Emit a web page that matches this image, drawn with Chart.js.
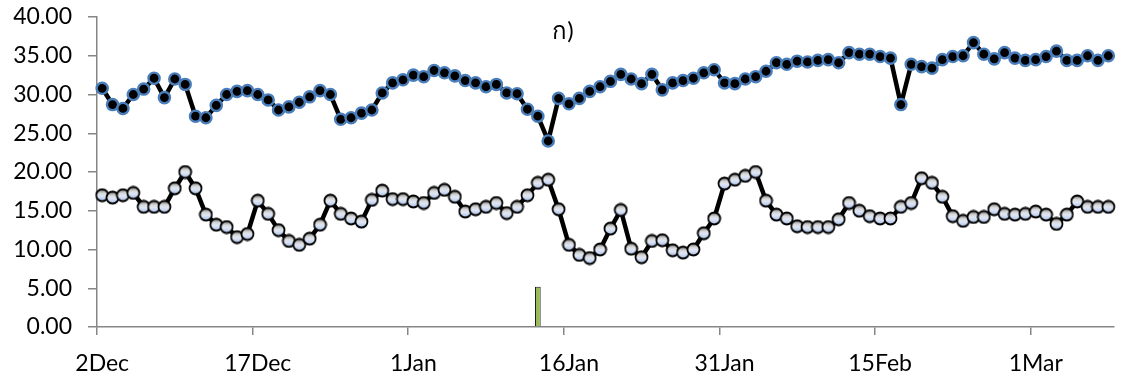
<!DOCTYPE html>
<html>
<head>
<meta charset="utf-8">
<script src="https://cdn.jsdelivr.net/npm/chart.js@4/dist/chart.umd.min.js"></script>
<style>
  html, body { margin: 0; padding: 0; background: #fff; }
  #wrap { width: 1124px; height: 381px; }
</style>
</head>
<body>
<div id="wrap"><canvas id="chart" width="1124" height="381"></canvas></div>
<script>
// daily series, 2 Dec 2011 .. 8 Mar 2012
const START = new Date(2011, 11, 2);
const DAYS = 98;
const MONTHS = ['Jan', 'Feb', 'Mar', 'Apr', 'May', 'Jun', 'Jul', 'Aug', 'Sep', 'Oct', 'Nov', 'Dec'];

const dayLabels = [];
for (let i = 0; i < DAYS; i++) {
  const d = new Date(START.getFullYear(), START.getMonth(), START.getDate() + i);
  dayLabels.push(d.getDate() + MONTHS[d.getMonth()]);
}

// labelled every 15 days
const tickLabels = ['2Dec', '17Dec', '1Jan', '16Jan', '31Jan', '15Feb', '1Mar'];

const maxTemp = [
  30.8, 28.7, 28.2, 30.0, 30.7, 32.1, 29.6, 32.0, 31.3, 27.2,
  27.0, 28.6, 30.0, 30.4, 30.5, 30.0, 29.3, 28.0, 28.4, 29.0,
  29.7, 30.5, 30.0, 26.8, 27.0, 27.6, 28.0, 30.2, 31.5, 31.9,
  32.5, 32.3, 33.1, 32.8, 32.4, 31.8, 31.5, 31.0, 31.3, 30.2,
  30.1, 28.1, 27.2, 24.0, 29.5, 28.8, 29.5, 30.4, 31.0, 31.7,
  32.6, 32.0, 31.4, 32.6, 30.6, 31.5, 31.8, 32.1, 32.8, 33.2,
  31.5, 31.4, 32.0, 32.3, 33.0, 34.1, 33.9, 34.3, 34.2, 34.4,
  34.5, 34.1, 35.4, 35.2, 35.2, 34.9, 34.7, 28.7, 33.9, 33.6,
  33.4, 34.5, 34.9, 35.0, 36.7, 35.2, 34.6, 35.4, 34.7, 34.4,
  34.5, 34.9, 35.6, 34.4, 34.4, 35.0, 34.4, 35.0
];

const minTemp = [
  17.0, 16.7, 17.0, 17.3, 15.5, 15.5, 15.5, 17.9, 20.0, 17.9,
  14.5, 13.2, 12.9, 11.6, 12.0, 16.3, 14.6, 12.5, 11.1, 10.6,
  11.4, 13.2, 16.3, 14.6, 14.0, 13.6, 16.4, 17.6, 16.5, 16.5,
  16.2, 16.0, 17.3, 17.7, 16.8, 14.9, 15.2, 15.5, 16.0, 14.7,
  15.5, 17.0, 18.6, 19.0, 15.2, 10.6, 9.3, 8.9, 10.0, 12.7,
  15.1, 10.1, 9.0, 11.1, 11.2, 9.9, 9.6, 10.0, 12.1, 14.0,
  18.5, 19.0, 19.5, 20.0, 16.3, 14.5, 14.0, 13.0, 12.9, 12.9,
  12.9, 13.9, 16.0, 15.0, 14.3, 14.0, 14.0, 15.5, 16.0, 19.2,
  18.6, 16.8, 14.3, 13.7, 14.2, 14.2, 15.2, 14.6, 14.5, 14.6,
  14.9, 14.5, 13.3, 14.5, 16.2, 15.5, 15.5, 15.5
];

const rainDates = ['13Jan'];
const rainValues = [5.2];

const AXIS_GREY = '#868686';

// shaded marker for the lower series
function makeShadedDot(r) {
  const size = Math.ceil(r * 2 + 3);
  const c = document.createElement('canvas');
  c.width = size;
  c.height = size;
  const g = c.getContext('2d');
  const mid = size / 2;
  const grad = g.createLinearGradient(0, mid - r, 0, mid + r);
  grad.addColorStop(0, '#5a5a5a');
  grad.addColorStop(0.3, '#d4d4d4');
  grad.addColorStop(0.55, '#e2e9f6');
  grad.addColorStop(1, '#a6bde8');
  g.beginPath();
  g.arc(mid, mid, r, 0, Math.PI * 2);
  g.fillStyle = grad;
  g.fill();
  g.lineWidth = 1.8;
  g.strokeStyle = '#000';
  g.stroke();
  return c;
}
const shadedDot = makeShadedDot(6);

// small caption drawn inside the plot
const captionPlugin = {
  id: 'caption',
  afterDraw(chart) {
    const {ctx} = chart;
    ctx.save();
    ctx.font = '24px Lato, "Noto Sans", sans-serif';
    ctx.fillStyle = '#000';
    ctx.textAlign = 'center';
    ctx.textBaseline = 'middle';
    ctx.fillText('ก)', chart.width / 2 + 1, 31);
    ctx.restore();
  }
};

Chart.defaults.font.family = 'Lato, "Noto Sans", sans-serif';
Chart.defaults.font.size = 23;
Chart.defaults.color = '#000';

new Chart(document.getElementById('chart'), {
  type: 'line',
  data: {
    labels: dayLabels,
    datasets: [
      {
        label: 'max',
        data: maxTemp,
        borderColor: '#000',
        borderWidth: 4.5,
        borderJoinStyle: 'round',
        pointRadius: 5.6,
        pointBorderWidth: 2.4,
        pointBackgroundColor: '#000',
        pointBorderColor: '#4a7ebb',
        tension: 0
      },
      {
        label: 'min',
        data: minTemp,
        borderColor: '#000',
        borderWidth: 4.5,
        borderJoinStyle: 'round',
        pointStyle: shadedDot,
        pointRadius: 6,
        tension: 0
      },
      {
        type: 'bar',
        label: 'rain',
        data: rainDates.map((d, k) => ({x: d, y: rainValues[k]})),
        backgroundColor: '#9bbb59',
        borderColor: '#1a1a1a',
        borderWidth: 1,
        categoryPercentage: 1,
        barPercentage: 0.55
      }
    ]
  },
  options: {
    responsive: false,
    animation: false,
    events: [],
    layout: {padding: {left: 0, right: 7, top: 17, bottom: 0}},
    plugins: {
      legend: {display: false},
      tooltip: {enabled: false}
    },
    scales: {
      x: {
        offset: true,
        border: {color: AXIS_GREY, width: 1.5},
        grid: {
          offset: true,
          drawOnChartArea: false,
          tickLength: 8,
          lineWidth: 1.5,
          color: (c) => (c.index % 15 === 0 ? AXIS_GREY : 'rgba(0,0,0,0)')
        },
        ticks: {
          autoSkip: false,
          maxRotation: 0,
          minRotation: 0,
          padding: 15,
          callback: (v, i) => (tickLabels.includes(dayLabels[i]) ? dayLabels[i] : '')
        },
        afterFit(scale) {
          scale.height = 54;
          scale.paddingLeft = 0;
          scale.paddingRight = 0;
        }
      },
      y: {
        min: 0,
        max: 40,
        border: {color: AXIS_GREY, width: 1.5},
        grid: {
          drawOnChartArea: false,
          tickLength: 9,
          lineWidth: 1.5,
          color: AXIS_GREY
        },
        ticks: {
          stepSize: 5,
          padding: 16,
          callback: (v) => v.toFixed(2)
        },
        afterFit(scale) {
          scale.width = 97;
          scale.paddingTop = 0;
          scale.paddingBottom = 0;
        }
      }
    }
  },
  plugins: [captionPlugin]
});
</script>
</body>
</html>
